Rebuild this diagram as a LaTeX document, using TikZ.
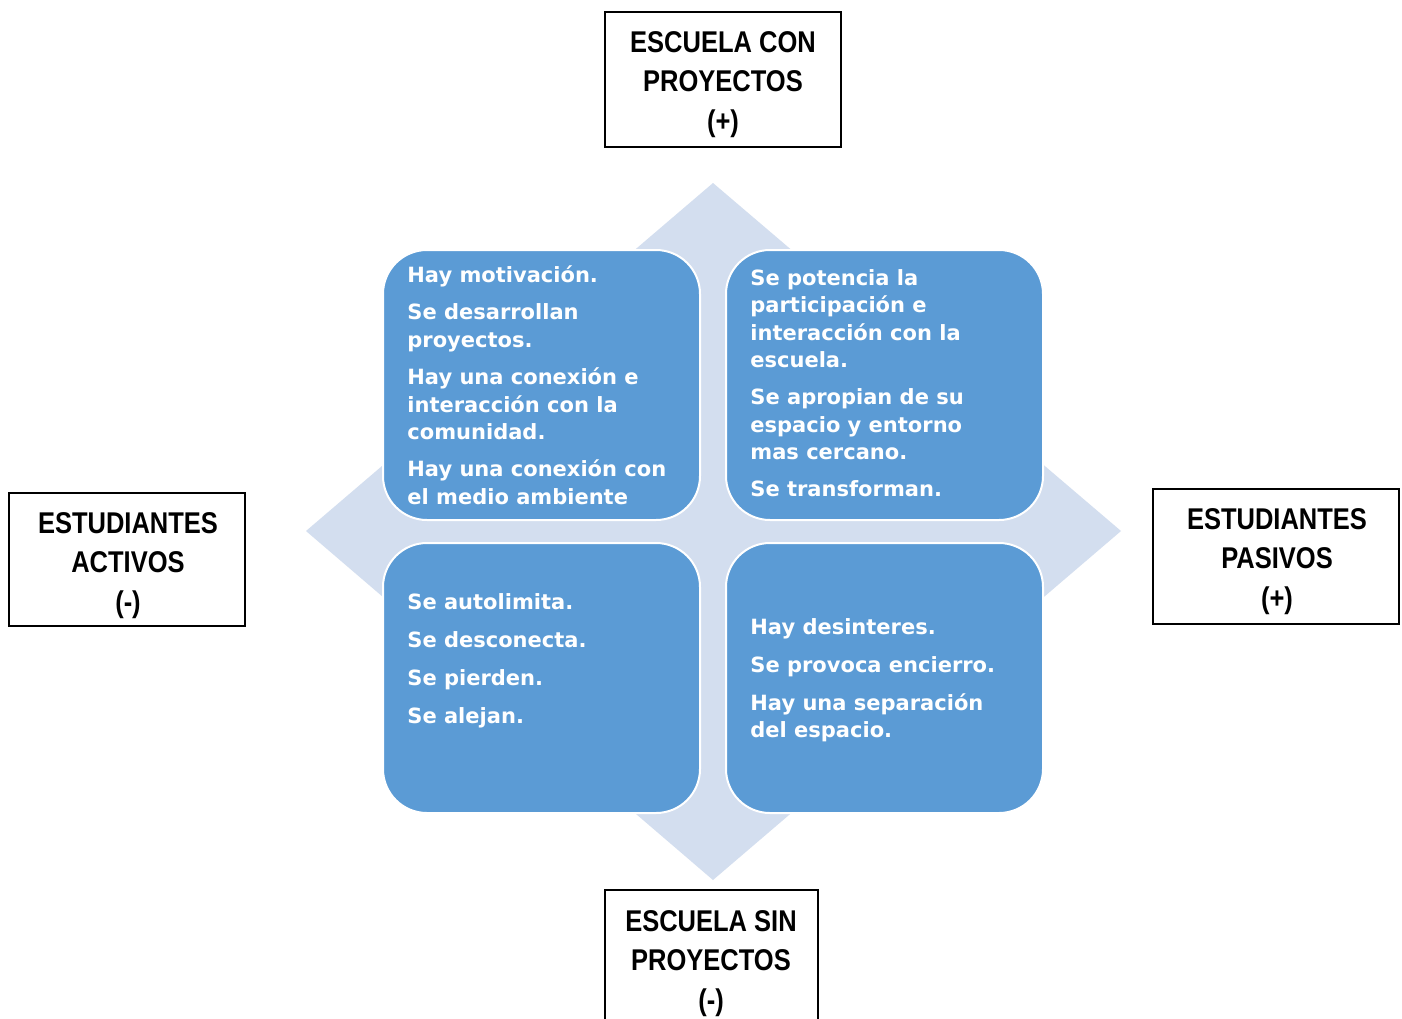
\documentclass[tikz,border=0pt]{standalone}
\usepackage{fontspec}
\setmainfont{DejaVu Sans}
\newfontfamily\narrowfont[FakeStretch=0.85]{Liberation Sans}
\definecolor{boxblue}{HTML}{5B9BD5}
\definecolor{diamondblue}{HTML}{D3DEEF}
\tikzset{
  bluebox/.style={draw=white, line width=1pt, fill=boxblue, rounded corners=22pt,
    minimum width=158.5pt, minimum height=135pt, inner sep=0pt},
  bluetext/.style={anchor=north west, inner sep=0pt, align=left, text=white,
    font=\fontsize{10.5}{13.75}\selectfont\bfseries},
  framebox/.style={draw=black, line width=1.25pt, fill=white, inner sep=0pt},
  frametext/.style={anchor=north, inner sep=0pt, align=center, text=black,
    font=\narrowfont\fontsize{15}{19.75}\selectfont\bfseries}
}
\begin{document}
\begin{tikzpicture}[x=0.5pt,y=-0.5pt]
\useasboundingbox (0,0) rectangle (1402,1018);
\clip (0,0) rectangle (1402,1018);
\fill[white] (0,0) rectangle (1402,1018);
% background diamond
\fill[diamondblue] (713,183) -- (1121,531) -- (713,880) -- (306,531) -- cycle;
% blue quadrants
\node[bluebox] (tl) at (541.5,385) {};
\node[bluebox] (tr) at (884.5,385) {};
\node[bluebox] (bl) at (541.5,678) {};
\node[bluebox] (br) at (884.5,678) {};
\node[bluetext] (tltext) at (407,262) {\rule{0pt}{10pt}Hay motivación.\\[4.9pt]
Se desarrollan\\ proyectos.\\[4.9pt]
Hay una conexión e\\ interacción con la\\ comunidad.\\[4.9pt]
Hay una conexión con\\ el medio ambiente};
\node[bluetext] (trtext) at (750,265) {\rule{0pt}{10pt}Se potencia la\\ participación e\\ interacción con la\\ escuela.\\[4.75pt]
Se apropian de su\\ espacio y entorno\\ mas cercano.\\[4.75pt]
Se transforman.};
\node[bluetext] (bltext) at (407,589) {\rule{0pt}{10pt}Se autolimita.\\[5.25pt]
Se desconecta.\\[5.25pt]
Se pierden.\\[5.25pt]
Se alejan.};
\node[bluetext] (brtext) at (750,614) {\rule{0pt}{10pt}Hay desinteres.\\[5.25pt]
Se provoca encierro.\\[5.25pt]
Hay una separación\\ del espacio.};
% outer frames
\node[framebox, minimum width=118pt, minimum height=67.5pt] (top) at (723,79.5) {};
\node[frametext] (toptext) at (723,28) {\rule{0pt}{12pt}ESCUELA CON\\ PROYECTOS\\ (+)};
\node[framebox, minimum width=118pt, minimum height=66.5pt] (left) at (127,559.5) {};
\node[frametext] (lefttext) at (128,509) {\rule{0pt}{12pt}ESTUDIANTES\\ ACTIVOS\\ (-)};
\node[framebox, minimum width=123pt, minimum height=67.5pt] (right) at (1276,556.5) {};
\node[frametext] (righttext) at (1277,505) {\rule{0pt}{12pt}ESTUDIANTES\\ PASIVOS\\ (+)};
\node[framebox, minimum width=106.5pt, minimum height=80pt] (bottom) at (711.5,970) {};
\node[frametext] (bottomtext) at (711,907) {\rule{0pt}{12pt}ESCUELA SIN\\ PROYECTOS\\ (-)};
\end{tikzpicture}
\end{document}
